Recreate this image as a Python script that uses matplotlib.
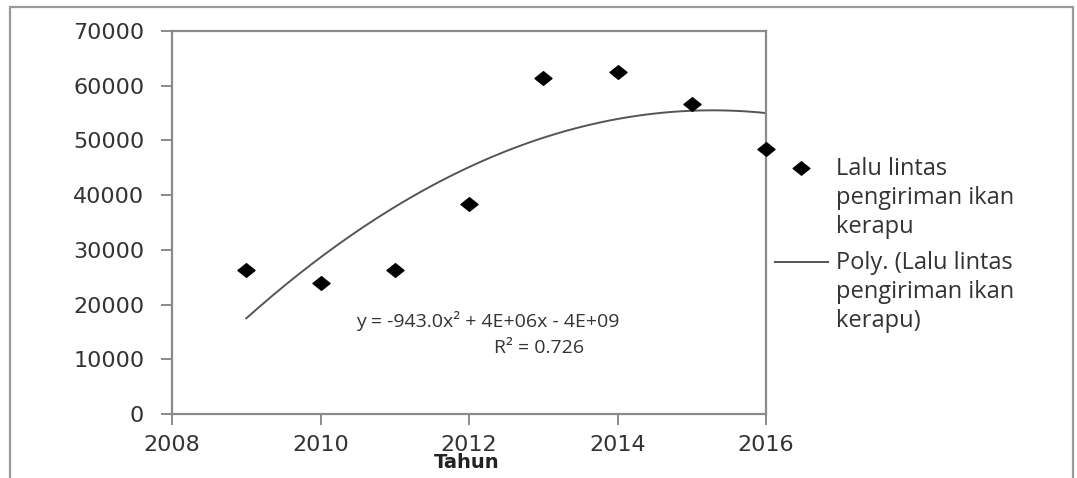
import matplotlib.pyplot as plt
import numpy as np
from matplotlib.lines import Line2D
from matplotlib.patches import Rectangle
from matplotlib.path import Path

# Data
years = np.array([2009, 2010, 2011, 2012, 2013, 2014, 2015, 2016])
traffic = np.array([26300, 23900, 26300, 38400, 61400, 62500, 56700, 48400])

series_label = 'Lalu lintas\npengiriman ikan\nkerapu'
trend_label = 'Poly. (Lalu lintas\npengiriman ikan\nkerapu)'
eq_text = 'y = -943.0x² + 4E+06x - 4E+09'
r2_text = 'R² = 0.726'

# wide diamond marker (the original chart is stretched horizontally)
diamond = Path([(-1.25, 0), (0, 1), (1.25, 0), (0, -1), (-1.25, 0)],
               [Path.MOVETO, Path.LINETO, Path.LINETO, Path.LINETO, Path.CLOSEPOLY])

plt.rcParams['font.family'] = 'DejaVu Sans'

W, H = 1077, 478
fig = plt.figure(figsize=(10.77, 4.78), dpi=100)
ax = fig.add_axes([172 / W, 1 - 414 / H, 594 / W, 383 / H])

# quadratic trendline, fitted like Excel does
coef = np.polyfit(years, traffic, 2)
xs = np.linspace(years.min(), years.max(), 200)
ax.plot(xs, np.polyval(coef, xs), color='#555555', lw=1.4, zorder=2)
ax.scatter(years, traffic, marker=diamond, s=150, color='black', zorder=3,
           clip_on=False)

ax.set_xlim(2008, 2016)
ax.set_ylim(0, 70000)
ax.set_xticks(np.arange(2008, 2017, 2))
ax.set_yticks(np.arange(0, 70001, 10000))
for s in ax.spines.values():
    s.set_color('#8a8a8a')
    s.set_linewidth(1.6)
ax.tick_params(direction='out', length=8, width=1.4, color='#8a8a8a',
               labelsize=16, labelcolor='#333333', pad=12)
ax.tick_params(axis='x', pad=7)

fig.text(488 / W, 1 - 321 / H, eq_text, fontsize=14, family='Open Sans',
         color='#333333', ha='center', va='center')
fig.text(539 / W, 1 - 348 / H, r2_text, fontsize=14, family='Open Sans',
         color='#333333', ha='center', va='center')
fig.text(467 / W, 1 - 463 / H, 'Tahun', fontsize=14, fontweight='bold',
         color='#222222', ha='center', va='center')

# legend drawn by hand so handles sit on the first label line
fig.add_artist(Line2D([801 / W], [1 - 168 / H], marker=diamond, markersize=12,
                      color='black', linestyle='none'))
fig.add_artist(Line2D([775 / W, 828 / W], [1 - 262 / H, 1 - 262 / H],
                      color='#555555', lw=1.4))
fig.text(836 / W, 1 - 157 / H, series_label, fontsize=17, family='Open Sans',
         color='#333333', va='top', linespacing=1.27)
fig.text(836 / W, 1 - 251 / H, trend_label, fontsize=17, family='Open Sans',
         color='#333333', va='top', linespacing=1.27)

# outer chart border
fig.add_artist(Rectangle((10 / W, -0.2), 1063 / W, 1.2 - 7 / H,
                         transform=fig.transFigure, fill=False,
                         edgecolor='#9a9a9a', lw=1.6))

fig.savefig('out.png', dpi=100)
